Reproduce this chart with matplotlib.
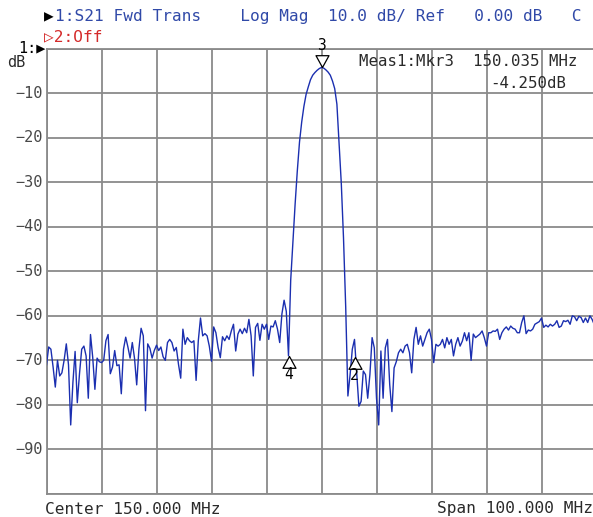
import numpy as np
import matplotlib.pyplot as plt
from matplotlib.path import Path

# sweep settings
center_mhz = 150.0
span_mhz = 100.0
ref_db = 0.0
scale_db = 10.0

# S21 trace (dB), 251 sweep points, split in three parts
trace_lo = [-71, -67, -67.5, -71.5, -76, -70, -73.5, -72.8, -70, -66.3,
            -71, -84.5, -75, -68, -79.5, -73, -67.5, -66.8, -69, -78.5,
            -64.2, -69.3, -76.5, -69.5, -70.3, -70.5, -70, -65.6, -64.2, -73,
            -71.5, -67.8, -71.2, -71, -77.5, -67.5, -64.8, -67, -69.5, -66,
            -69.5, -75.5, -67.5, -62.8, -64.5, -81.3, -66.3, -67.3, -69.5, -67.8,
            -66.6, -67.8, -67, -69.2, -70,
            -66, -65.3, -66, -67.9, -67.1, -70.9, -74, -63, -66.4, -64.9,
            -65.6, -66, -65.6, -74.5, -65.6, -60.5, -64.5, -64, -64.5, -66.8,
            -70.2, -62.5, -63.8, -67.1, -69.4, -64.7, -65.6, -64.5, -65.3, -63.4,
            -61.9, -67.9, -64.1, -63, -64, -62.8, -63.8, -60.8, -64.5, -73.5,
            -62.6, -61.7, -65.5, -61.9, -63, -61.9, -65.3, -62.3, -62.5, -61.1,
            -63, -66, -59.6, -56.5, -59]
trace_peak = [-69, -52, -43.5, -35, -27.5, -21, -16.5, -13, -10.3, -8.6,
              -7.0, -6.0, -5.4, -4.9, -4.5, -4.25, -4.4, -4.8, -5.3, -6.0,
              -7.3, -9.0, -12.5, -21.5, -30.3, -42.5, -58]
trace_hi = [-78, -73.2, -67.5, -65.3, -72.8, -80.3, -79.2, -72.4, -73.2, -78.5,
            -73.2, -64.9, -67.2, -78.5, -84.5, -67.9, -78.5, -67.2, -65.3, -75.4,
            -81.5, -71.7, -70.3, -68.3, -67.5, -68.3, -66.8, -66.4, -68.3, -72.8,
            -65.3, -62.6, -66.4, -64.5, -66.8, -65.3, -63.8, -63, -65.3, -70.5,
            -66.4, -66.8, -66.4, -65.3, -67.2, -64.9, -66.4, -65.3, -69, -66.4,
            -64.9, -66.8, -65.7, -63.8,
            -65.6, -63.8, -70, -64.1, -64.9, -64.5, -64.1, -63.4, -64.9, -66.8,
            -63.8, -63.8, -63.4, -63.5, -63, -65.3, -63.8, -63, -62.5, -63.2,
            -62.3, -62.8, -63, -63.8, -63.8, -61.5, -60, -64, -63.2, -63.4,
            -63, -61.9, -61.6, -61.3, -60.5, -62.6, -62.1, -62.5, -61.9, -62.3,
            -61.9, -61.1, -62.6, -62.3, -61.1, -61.3, -61, -61.9, -60, -60.2,
            -61.1, -60.1, -60.4, -61.5, -60.5, -61.5, -60, -60.8, -62, -61.5]

# markers
mkr_up_names = ['4', '2']
mkr_up_freq = [144.0, 156.0]
mkr_up_db = [-69.0, -69.2]
mkr_dn_names = ['3']
mkr_dn_freq = [150.0]
mkr_dn_db = [-4.25]

ytick_vals = [-10, -20, -30, -40, -50, -60, -70, -80, -90]

trace = np.array(trace_lo + trace_peak + trace_hi)
freq = np.linspace(center_mhz - span_mhz / 2, center_mhz + span_mhz / 2, len(trace))

W, H = 593, 517
mono = ['DejaVu Sans Mono', 'DejaVu Sans']
blue_txt = '#3049a8'
grid_c = '#8a8a8a'

fig = plt.figure(figsize=(W / 100, H / 100), dpi=100)
fig.patch.set_facecolor('white')
ax = fig.add_axes([46.5 / W, 23 / H, 550 / W, 445.5 / H])

ax.set_xlim(center_mhz - span_mhz / 2, center_mhz + span_mhz / 2)
ax.set_ylim(ref_db - 10 * scale_db, ref_db)
ax.set_xticks(np.linspace(center_mhz - span_mhz / 2, center_mhz + span_mhz / 2, 11))
ax.set_yticks(np.arange(ref_db - 10 * scale_db, ref_db + 1, scale_db))
ax.grid(True, color=grid_c, lw=1.3)
ax.tick_params(length=0, labelbottom=False, labelleft=False)
for s in ax.spines.values():
    s.set_color(grid_c)
    s.set_linewidth(1.3)

for v in ytick_vals:
    ax.annotate('\u2212%d' % abs(v), xy=(0, v), xycoords=('axes fraction', 'data'),
                xytext=(-3, 0), textcoords='offset points', ha='right', va='center',
                family=mono, fontsize=11, color='#484848')

ax.plot(freq, trace, color='#1b2fb0', lw=1.0, zorder=3)

# marker triangles with apex at the data point
tri_up = Path([(0, 0), (-0.55, -1), (0.55, -1), (0, 0)])
tri_dn = Path([(0, 0), (-0.55, 1), (0.55, 1), (0, 0)])
ax.plot(mkr_up_freq, mkr_up_db, ls='none', marker=tri_up, ms=17, mfc='white',
        mec='black', mew=0.9, zorder=4, clip_on=False)
ax.plot(mkr_dn_freq, mkr_dn_db, ls='none', marker=tri_dn, ms=17, mfc='white',
        mec='black', mew=0.9, zorder=4, clip_on=False)
for n, f, v in zip(mkr_up_names, mkr_up_freq, mkr_up_db):
    ax.annotate(n, xy=(f, v), xytext=(0, -13.5), textcoords='offset points',
                ha='center', va='center', family=mono, fontsize=10.5, color='black', zorder=5)
for n, f, v in zip(mkr_dn_names, mkr_dn_freq, mkr_dn_db):
    ax.annotate(n, xy=(f, v), xytext=(0, 15.5), textcoords='offset points',
                ha='center', va='center', family=mono, fontsize=10.5, color='black',
                zorder=5, annotation_clip=False)

# marker readout
fig.text(359 / W, 1 - 62 / H, 'Meas1:Mkr3  150.035 MHz', family=mono, fontsize=11.3,
         color='#2a2a2a', ha='left', va='center')
fig.text(490 / W, 1 - 83 / H, '-4.250dB', family=mono, fontsize=11.3,
         color='#2a2a2a', ha='left', va='center')

# header / footer text
fig.text(44 / W, 1 - 17 / H, '\u25b6', family=mono, fontsize=11.6, color='black',
         ha='left', va='center')
fig.text(55 / W, 1 - 17 / H, '1:S21 Fwd Trans    Log Mag  10.0 dB/ Ref   0.00 dB   C',
         family=mono, fontsize=11.6, color=blue_txt, ha='left', va='center')
fig.text(44 / W, 1 - 37 / H, '\u25b72:Off', family=mono, fontsize=11.6,
         color='#d42a2a', ha='left', va='center')
fig.text(46 / W, 1 - 48 / H, '1:\u25b6', family=mono, fontsize=11, color='black',
         ha='right', va='center')
fig.text(7 / W, 1 - 63 / H, 'dB', family=mono, fontsize=11, color='#2a2a2a',
         ha='left', va='center')
fig.text(45 / W, 1 - 509 / H, 'Center 150.000 MHz', family=mono, fontsize=11.6,
         color='#2a2a2a', ha='left', va='center')
fig.text(593 / W, 1 - 509 / H, 'Span 100.000 MHz', family=mono, fontsize=11.6,
         color='#2a2a2a', ha='right', va='center')

fig.savefig('out.png', dpi=100)
